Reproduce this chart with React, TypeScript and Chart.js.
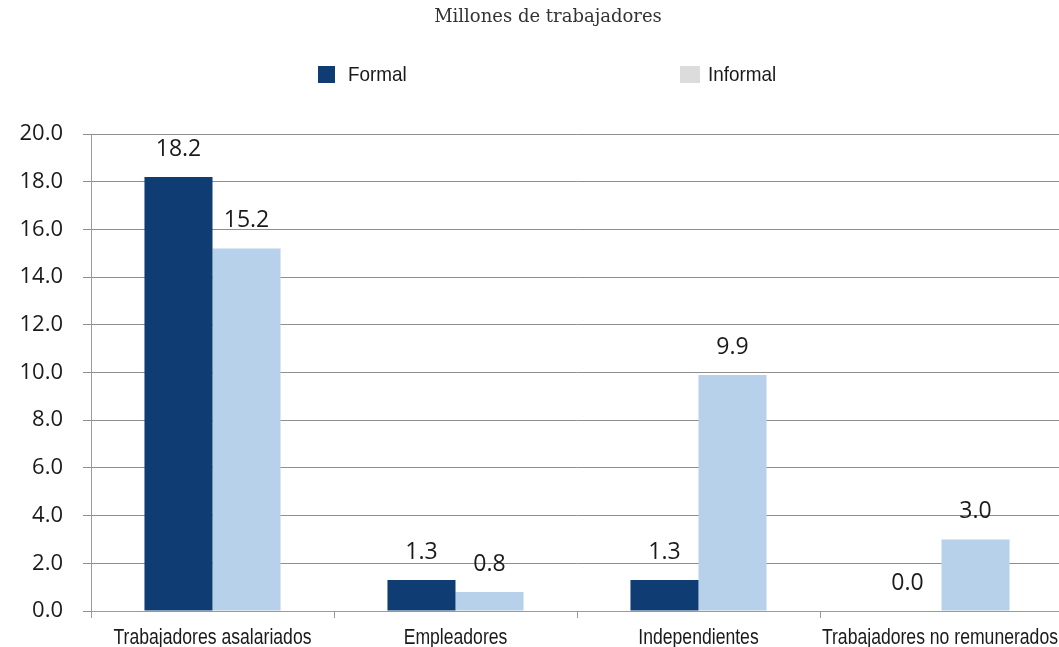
import React, { useEffect, useRef } from "react";
import { Chart, registerables } from "chart.js";

Chart.register(...registerables);

const categories = [
  "Trabajadores asalariados",
  "Empleadores",
  "Independientes",
  "Trabajadores no remunerados",
];
const formalValues = [18.2, 1.3, 1.3, 0.0];
const informalValues = [15.2, 0.8, 9.9, 3.0];
const yTicks = [0, 2, 4, 6, 8, 10, 12, 14, 16, 18, 20];
const title = "Millones de trabajadores";
const seriesNames = ["Formal", "Informal"];

const FORMAL = "#0f3d73";
const INFORMAL = "#b8d1ea";
const SANS = "'Liberation Sans', Arial, sans-serif";
const NUMFONT = "'Open Sans', Lato, sans-serif";

const labelPlugin = {
  id: "barLabels",
  afterDatasetsDraw(chart: any) {
    const ctx = chart.ctx;
    ctx.save();
    ctx.font = `23px ${NUMFONT}`;
    ctx.fillStyle = "#1a1a1a";
    ctx.textAlign = "center";
    ctx.textBaseline = "alphabetic";
    chart.data.datasets.forEach((ds: any, i: number) => {
      const meta = chart.getDatasetMeta(i);
      meta.data.forEach((bar: any, j: number) => {
        const v = ds.data[j] as number;
        ctx.fillText(v.toFixed(1), bar.x, bar.y - 21);
      });
    });
    ctx.restore();
  },
};

const xLabelPlugin = {
  id: "xLabels",
  afterDraw(chart: any) {
    const ctx = chart.ctx;
    const xs = chart.scales.x;
    const sx = 0.8;
    ctx.save();
    ctx.font = `22px ${SANS}`;
    ctx.fillStyle = "#1a1a1a";
    ctx.textBaseline = "alphabetic";
    ctx.textAlign = "left";
    categories.forEach((c, i) => {
      const w = ctx.measureText(c).width * sx;
      let left = xs.getPixelForValue(i) - w / 2;
      if (left + w > 1058) left = 1058 - w;
      ctx.save();
      ctx.translate(left, 644);
      ctx.scale(sx, 1);
      ctx.fillText(c, 0, 0);
      ctx.restore();
    });
    ctx.restore();
  },
};

const legendText: React.CSSProperties = {
  display: "inline-block",
  fontFamily: SANS,
  fontSize: 21,
  color: "#1a1a1a",
  transform: "scaleX(0.9)",
  transformOrigin: "left center",
  lineHeight: "24px",
};

export default function App() {
  const ref = useRef<HTMLCanvasElement | null>(null);
  useEffect(() => {
    if (!ref.current) return;
    const chart = new Chart(ref.current, {
      type: "bar",
      data: {
        labels: categories,
        datasets: [
          { label: seriesNames[0], data: formalValues, backgroundColor: FORMAL, categoryPercentage: 0.56, barPercentage: 1 },
          { label: seriesNames[1], data: informalValues, backgroundColor: INFORMAL, categoryPercentage: 0.56, barPercentage: 1 },
        ],
      },
      options: {
        animation: false,
        responsive: false,
        maintainAspectRatio: false,
        layout: { padding: { top: 134, left: 0, right: 2, bottom: 0 } },
        plugins: { legend: { display: false }, tooltip: { enabled: false }, title: { display: false } },
        scales: {
          x: {
            grid: { display: true, drawOnChartArea: false, drawTicks: true, tickLength: 7, color: "#9a9a9a", offset: true },
            border: { display: true, color: "#9a9a9a" },
            ticks: { display: false },
            afterFit: (s: any) => { s.height = 36; },
          },
          y: {
            min: 0,
            max: 20,
            afterBuildTicks: (s: any) => { s.ticks = yTicks.map((v) => ({ value: v })); },
            grid: { color: "#8e8e8e", tickLength: 8 },
            border: { display: true, color: "#9a9a9a" },
            ticks: {
              font: { family: NUMFONT, size: 22 },
              color: "#1a1a1a",
              padding: 20,
              callback: (v: any) => Number(v).toFixed(1),
            },
            afterFit: (s: any) => { s.width = 91; },
          },
        },
      },
      plugins: [labelPlugin, xLabelPlugin],
    });
    return () => chart.destroy();
  }, []);

  return (
    <div style={{ position: "absolute", left: 0, top: 0, width: 1059, height: 647, background: "#fff", overflow: "hidden" }}>
      <canvas ref={ref} width={1065} height={647} style={{ position: "absolute", left: 0, top: 0 }} />
      <div style={{ position: "absolute", top: 5, left: 0, width: 1096, textAlign: "center", fontFamily: "'DejaVu Serif', serif", fontSize: 18, color: "#333" }}>
        {title}
      </div>
      <div style={{ position: "absolute", top: 62, left: 318, display: "flex", alignItems: "center" }}>
        <span style={{ display: "inline-block", width: 17, height: 17, background: FORMAL, marginRight: 13 }} />
        <span style={legendText}>{seriesNames[0]}</span>
      </div>
      <div style={{ position: "absolute", top: 62, left: 680, display: "flex", alignItems: "center" }}>
        <span style={{ display: "inline-block", width: 20, height: 17, background: "#dcdcdc", marginRight: 8 }} />
        <span style={legendText}>{seriesNames[1]}</span>
      </div>
    </div>
  );
}
